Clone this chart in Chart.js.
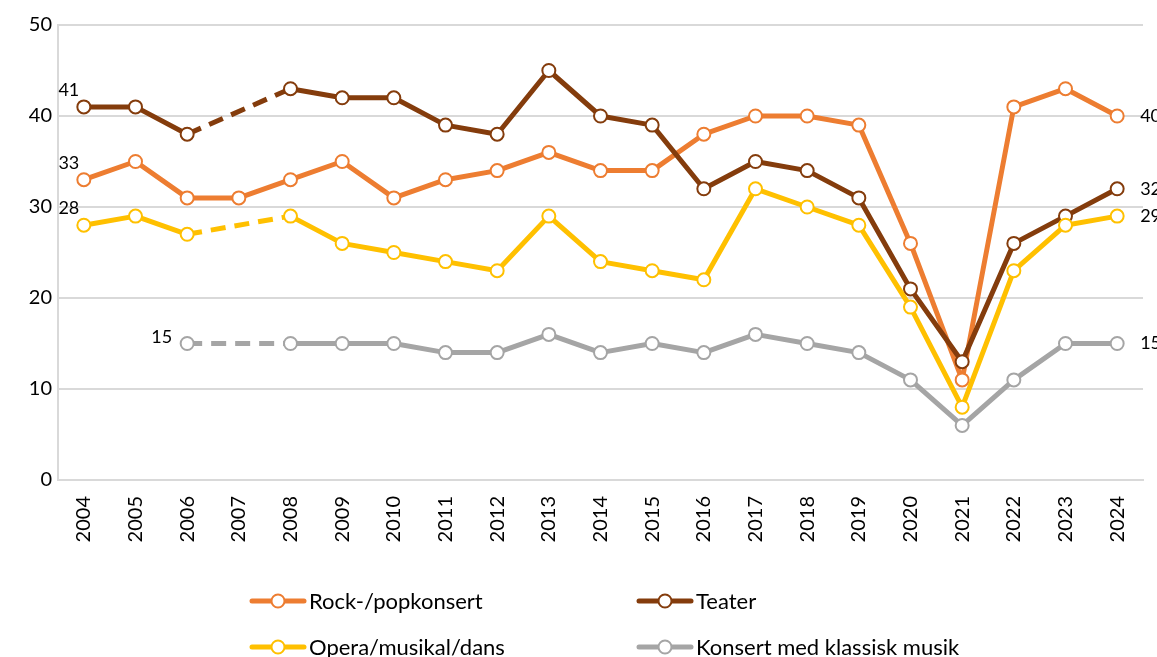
<!DOCTYPE html>
<html>
<head>
<meta charset="utf-8">
<script src="https://cdn.jsdelivr.net/npm/chart.js@4/dist/chart.umd.min.js"></script>
<style>
    html, body { margin: 0; padding: 0; background: #fff; }
    #wrap { width: 1157px; height: 657px; position: relative; }
</style>
</head>
<body>
<div id="wrap"><canvas id="myChart" width="1157" height="657"></canvas></div>
<script>
'use strict';

const years = ['2004', '2005', '2006', '2007', '2008', '2009', '2010', '2011', '2012', '2013', '2014',
    '2015', '2016', '2017', '2018', '2019', '2020', '2021', '2022', '2023', '2024'];
const rockPop = [33, 35, 31, 31, 33, 35, 31, 33, 34, 36, 34, 34, 38, 40, 40, 39, 26, 11, 41, 43, 40];
const teater = [41, 41, 38, null, 43, 42, 42, 39, 38, 45, 40, 39, 32, 35, 34, 31, 21, 13, 26, 29, 32];
const opera = [28, 29, 27, null, 29, 26, 25, 24, 23, 29, 24, 23, 22, 32, 30, 28, 19, 8, 23, 28, 29];
const klassisk = [null, null, 15, null, 15, 15, 15, 14, 14, 16, 14, 15, 14, 16, 15, 14, 11, 6, 11, 15, 15];
const seriesNames = ['Rock-/popkonsert', 'Teater', 'Opera/musikal/dans', 'Konsert med klassisk musik'];
const seriesColors = ['#ED7D31', '#843C0C', '#FFC000', '#A5A5A5'];

const FONT = 'Lato, "Liberation Sans", sans-serif';

function makeSet(i, values) {
    return {
        'label': seriesNames[i],
        'data': values,
        'borderColor': seriesColors[i],
        'backgroundColor': '#fff',
        'borderWidth': 5,
        'borderJoinStyle': 'round',
        'pointRadius': 6.5,
        'pointBorderWidth': 2,
        'pointBackgroundColor': '#fff',
        'pointBorderColor': seriesColors[i],
        'spanGaps': true,
        'tension': 0,
        'order': 4 - i,
        'segment': {
            // dashed across a missing year
            'borderDash': ctx => (ctx.p0.skip || ctx.p1.skip ? [15, 9] : undefined)
        }
    };
}

// first and last value of each series, as Excel shows them
const endLabels = {
    'id': 'endLabels',
    afterDatasetsDraw(chart) {
        const ctx = chart.ctx;
        ctx.save();
        ctx.font = '18px ' + FONT;
        ctx.fillStyle = '#000';
        ctx.textBaseline = 'middle';
        chart.data.datasets.forEach((ds, di) => {
            const meta = chart.getDatasetMeta(di);
            const first = ds.data.findIndex(v => v !== null);
            let last = ds.data.length - 1;
            while (ds.data[last] === null) last--;
            const p0 = meta.data[first];
            if (first === 0) {
                ctx.textAlign = 'center';
                ctx.fillText(String(ds.data[first]), p0.x - 15, p0.y - 17);
            } else {
                ctx.textAlign = 'right';
                ctx.fillText(String(ds.data[first]), p0.x - 15, p0.y - 6);
            }
            const p1 = meta.data[last];
            ctx.textAlign = 'left';
            ctx.fillText(String(ds.data[last]), p1.x + 23, p1.y);
        });
        ctx.restore();
    }
};

// two column legend under the plot
const gridLegend = {
    'id': 'gridLegend',
    afterDraw(chart) {
        const ctx = chart.ctx;
        const cols = [250, 637];
        const rows = [601, 647];
        ctx.save();
        ctx.font = '22px ' + FONT;
        ctx.textBaseline = 'middle';
        ctx.textAlign = 'left';
        seriesNames.forEach((name, i) => {
            const x = cols[i % 2];
            const y = rows[Math.floor(i / 2)];
            ctx.strokeStyle = seriesColors[i];
            ctx.lineWidth = 5;
            ctx.lineCap = 'round';
            ctx.beginPath();
            ctx.moveTo(x + 2, y);
            ctx.lineTo(x + 54, y);
            ctx.stroke();
            ctx.beginPath();
            ctx.arc(x + 28, y, 6.5, 0, Math.PI * 2);
            ctx.fillStyle = '#fff';
            ctx.fill();
            ctx.lineWidth = 2;
            ctx.stroke();
            ctx.fillStyle = '#000';
            ctx.fillText(name, x + 59, y + 1);
        });
        ctx.restore();
    }
};

const ctx = document.getElementById('myChart').getContext('2d');
const chart = new Chart(ctx, {
    'type': 'line',
    'data': {
        'labels': years,
        'datasets': [
            makeSet(0, rockPop),
            makeSet(1, teater),
            makeSet(2, opera),
            makeSet(3, klassisk)
        ]
    },
    'options': {
        'responsive': false,
        'animation': false,
        'events': [],
        'layout': {
            'padding': { 'top': 25, 'right': 14, 'bottom': 100, 'left': 0 }
        },
        'plugins': {
            'legend': { 'display': false },
            'tooltip': { 'enabled': false }
        },
        'scales': {
            'x': {
                'offset': true,
                'grid': { 'display': false },
                'border': { 'display': true, 'color': '#d9d9d9', 'width': 2 },
                'ticks': {
                    'color': '#000',
                    'font': { 'family': FONT, 'size': 20 },
                    'minRotation': 90,
                    'maxRotation': 90,
                    'autoSkip': false,
                    'padding': 8
                },
                afterFit(scale) { scale.height = 77; }
            },
            'y': {
                'min': 0,
                'max': 50,
                'grid': { 'color': '#d9d9d9', 'lineWidth': 2, 'drawTicks': false },
                'border': { 'display': true, 'color': '#d9d9d9', 'width': 2 },
                'ticks': {
                    'stepSize': 10,
                    'color': '#000',
                    'font': { 'family': FONT, 'size': 20 },
                    'padding': 6
                },
                afterFit(scale) { scale.width = 58; }
            }
        }
    },
    'plugins': [endLabels, gridLegend]
});
</script>
</body>
</html>
